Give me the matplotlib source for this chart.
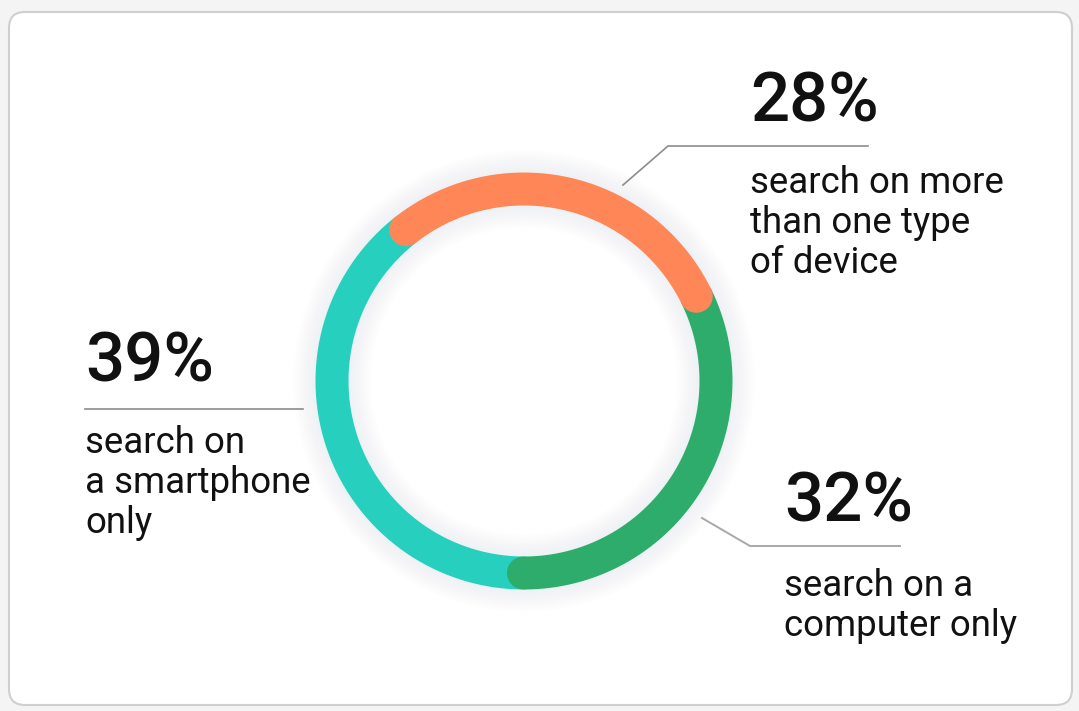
import numpy as np
import matplotlib
matplotlib.use('Agg')
import matplotlib.pyplot as plt
from matplotlib.patches import FancyBboxPatch

# data
segments = ['more than one device', 'computer only', 'smartphone only']
values = [28, 32, 39]
pct_labels = ['28%', '32%', '39%']
descriptions = [['search on more', 'than one type', 'of device'],
                ['search on a', 'computer only'],
                ['search on', 'a smartphone', 'only']]
colors = ['#FF8757', '#2EAC6C', '#26CFBE']

W, H = 1079, 711
fig = plt.figure(figsize=(W / 100, H / 100), dpi=100)
fig.patch.set_facecolor('#f4f4f4')
ax = fig.add_axes([0, 0, 1, 1])
ax.set_xlim(0, W)
ax.set_ylim(H, 0)
ax.set_aspect('equal')
ax.axis('off')

# card
card = FancyBboxPatch((9, 12), 1063, 693, boxstyle='round,pad=0,rounding_size=16',
                      facecolor='white', edgecolor='#cfcfcf', linewidth=1.5)
ax.add_patch(card)

cx, cy, r = 524, 381, 192
ring_lw = 33 * 0.72

# soft glow around the ring
t = np.linspace(0, 2 * np.pi, 400)
for k in range(8):
    ax.plot(cx + r * np.cos(t), cy - r * np.sin(t), color='#9aa0a6',
            lw=ring_lw + 4 + k * 4, alpha=0.012, solid_capstyle='round', zorder=2)

# ring segments, clockwise from the start angle
start = 128.0
total = float(sum(values))
angles = []
a = start
for v in values:
    sweep = 360.0 * v / total
    angles.append((a, a - sweep))
    a -= sweep

order = [2, 1, 0]  # teal under green under orange
for i in order:
    a0, a1 = angles[i]
    th = np.radians(np.linspace(a0, a1, 200))
    ax.plot(cx + r * np.cos(th), cy - r * np.sin(th), color=colors[i],
            lw=ring_lw, solid_capstyle='round', zorder=3 + (2 - i))

# leader lines
lc = '#8c8c8c'
ax.plot([623, 668, 868], [185, 146, 146], color=lc, lw=1.2, zorder=4)
ax.plot([85, 303], [409, 409], color=lc, lw=1.2, zorder=4)
ax.plot([702, 750, 900], [518, 546, 546], color='#a8a8a8', lw=1.4, zorder=4)

font = 'Roboto'
txt = '#111111'
big = 49 / 0.711 * 0.72
small = 28 / 0.711 * 0.72 * 0.93

pos = [(750, 122, 193), (784, 522, 596), (85, 382, 453)]
for i, (x, yb, yd) in enumerate(pos):
    ax.text(x, yb, pct_labels[i], fontsize=big, family=font, fontweight='medium',
            color=txt, va='baseline', ha='left', zorder=5)
    for j, line in enumerate(descriptions[i]):
        ax.text(x, yd + 40 * j, line, fontsize=small, family=font,
                color=txt, va='baseline', ha='left', zorder=5)

fig.savefig('out.png', dpi=100, facecolor=fig.get_facecolor())
